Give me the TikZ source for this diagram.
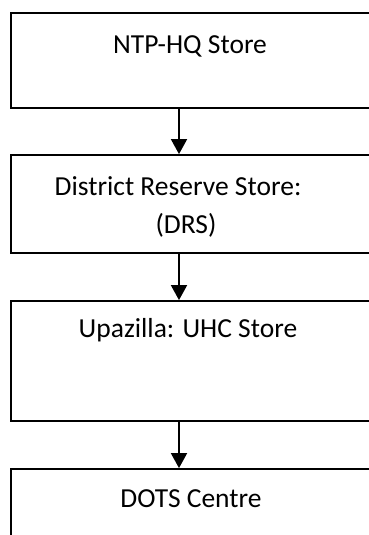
\documentclass[tikz,border=0pt]{standalone}
\usepackage{fontspec}
\setmainfont{Carlito}
\usetikzlibrary{arrows.meta}
\usetikzlibrary{positioning}

\tikzset{
    storebox/.style={draw, line width=1.8pt, minimum width=359pt, inner sep=0pt},
    storetext/.style={anchor=base, font=\fontsize{27.5}{38}\selectfont, inner sep=0pt},
    flow/.style={line width=1.8pt, -{Triangle[width=16pt,length=15pt]}}
}

\begin{document}
\begin{tikzpicture}[x=1pt, y=1pt]
        \useasboundingbox (0,0) rectangle (368,-535);

        % NTP headquarters
        \node[storebox, minimum height=95pt] (hq) at (190.5,-60.5) {};
        \node[storetext] (hqtext) at (190,-53) {NTP-HQ Store};

        % District level
        \node[storebox, minimum height=98pt] (drs) at (190.5,-204) {};
        \node[storetext] (drstext) at (178,-195) {District Reserve Store:};
        \node[storetext] (drstag) at (186,-233) {(DRS)};

        % Upazilla level
        \node[storebox, minimum height=120pt] (uhc) at (190.5,-361) {};
        \node[storetext] (uhctext) at (188,-337) {Upazilla: UHC Store};

        % DOTS level
        \node[storebox, minimum height=100pt] (dots) at (190.5,-519) {};
        \node[storetext] (dotstext) at (191,-507) {DOTS Centre};

        % supply chain arrows
        \draw[flow] (hq.south -| 179,0) -- (drs.north -| 179,0);
        \draw[flow] (drs.south -| 179,0) -- (uhc.north -| 179,0);
        \draw[flow] (uhc.south -| 179,0) -- (dots.north -| 179,0);

    \end{tikzpicture}
\end{document}
